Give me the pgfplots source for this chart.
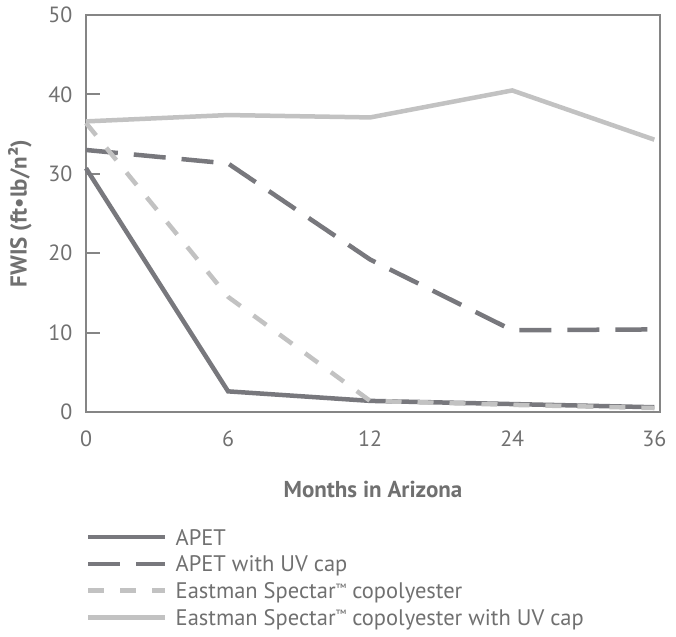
\documentclass[border=0pt]{standalone}
\usepackage{fontspec}
\setmainfont{PT Sans}
\usepackage{pgfplots}
\pgfplotsset{compat=1.18}
\definecolor{dark}{HTML}{78787D}
\definecolor{light}{HTML}{C2C2C2}
\definecolor{axisgray}{HTML}{858585}
\definecolor{txt}{HTML}{707070}
\newcommand\tm{\raisebox{6.5bp}{\fontsize{12bp}{12bp}\selectfont ™}}
\begin{document}
\begin{tikzpicture}
\useasboundingbox (-86bp,-225bp) rectangle (590bp,412bp);
\begin{axis}[
  at={(0,0)}, anchor=south west,
  scale only axis, width=574bp, height=397bp,
  xmin=0, xmax=4.04, ymin=0, ymax=50,
  xtick={0,1,2,3,4}, xticklabels={0,6,12,24,36},
  ytick={0,10,20,30,40,50},
  axis line style={axisgray, line width=2bp},
  major tick length=14bp,
  ytick style={axisgray, line width=2bp},
  xtick style={draw=none},
  ytick pos=left, tick align=inside,
  /pgf/number format/assume math mode=true,
  tick label style={font=\fontsize{22bp}{26bp}\selectfont, text=txt},
  yticklabel style={xshift=-10bp},
  xticklabel style={yshift=-15bp},
  xlabel={Months in Arizona},
  ylabel={FWIS (ft•lb/n²)},
  label style={font=\fontsize{23bp}{27bp}\selectfont\bfseries, text=txt},
  xlabel style={at={(axis description cs:0.5,-0.196)}, anchor=center},
  ylabel style={at={(axis description cs:-0.115,0.5)}, anchor=center},
  legend cell align=left,
  legend style={at={(axis description cs:0,0)}, anchor=north west, yshift=-117bp, xshift=0bp,
    draw=none, fill=none, inner sep=0pt, row sep=10.7bp, column sep=8bp,
    font=\fontsize{22.5bp}{27bp}\selectfont, text=txt,
    nodes={inner sep=0pt, text height=16bp, text depth=0bp}},
  legend image code/.code={\draw[#1] (0bp,0bp) -- (77bp,0bp);},
  every axis plot/.append style={line width=4.5bp, line cap=butt, line join=miter},
  clip=false,
]
\addplot[dark] coordinates {(0,30.7) (1,2.6) (2,1.4) (3,1.0) (4,0.6)};
\addlegendentry{APET}
\addplot[dark, dash pattern=on 32bp off 16bp] coordinates {(0,33.0) (1,31.3) (2,19.2) (3,10.3) (4,10.4)};
\addlegendentry{APET with UV cap}
\addplot[light, dash pattern=on 16bp off 16bp] coordinates {(0,36.4) (1,14.5) (2,1.4) (3,0.9) (4,0.5)};
\addlegendentry{Eastman Spectar\tm\ copolyester}
\addplot[light] coordinates {(0,36.6) (1,37.4) (2,37.1) (3,40.5) (4,34.3)};
\addlegendentry{Eastman Spectar\tm\ copolyester with UV cap}
\end{axis}
\end{tikzpicture}
\end{document}
